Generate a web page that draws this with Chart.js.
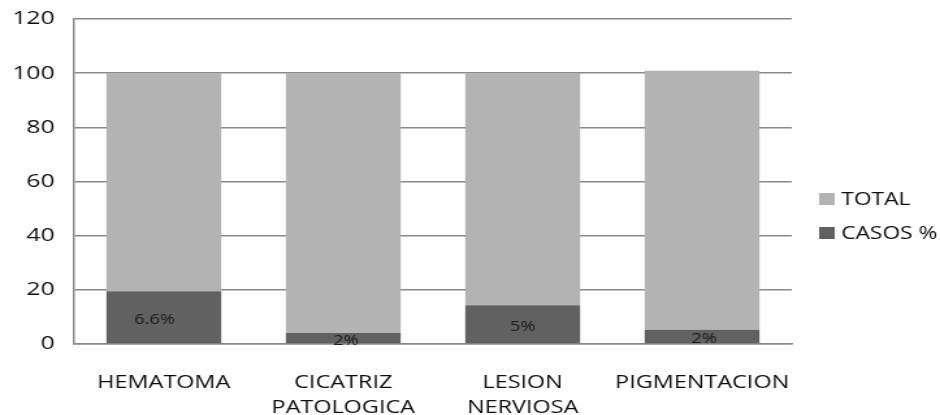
<!DOCTYPE html>
<html>
<head>
<meta charset="utf-8">
<script src="https://cdn.jsdelivr.net/npm/chart.js@4/dist/chart.umd.min.js"></script>
<style>
  html, body { margin: 0; padding: 0; background: #fff; overflow: hidden; }
  #wrap { width: 723px; height: 415px; transform: scaleX(1.3002); transform-origin: 0 0; }
</style>
</head>
<body>
<div id="wrap"><canvas id="chart" width="723" height="415"></canvas></div>
<script>
const categories = ['HEMATOMA', ['CICATRIZ', 'PATOLOGICA'], ['LESION', 'NERVIOSA'], 'PIGMENTACION'];
const casos = [19.5, 4.1, 14.3, 5.3];
const total = [80.5, 95.9, 85.7, 95.6];
const casosLabels = ['6.6%', '2%', '5%', '2%'];
const yTicks = [0, 20, 40, 60, 80, 100, 120];

const FONT = '"Open Sans", sans-serif';
const TEXT = '#0d0d0d';

// Writes the percentage text in the middle of each CASOS segment
const segmentLabels = {
  id: 'segmentLabels',
  afterDatasetsDraw(chart, args, opts) {
    const meta = chart.getDatasetMeta(0);
    const ctx = chart.ctx;
    const nudge = opts.nudgeX || [];
    ctx.save();
    ctx.font = '14px ' + FONT;
    ctx.fillStyle = '#1a1a1a';
    ctx.textAlign = 'center';
    ctx.textBaseline = 'middle';
    meta.data.forEach((bar, i) => {
      ctx.fillText(casosLabels[i], bar.x + (nudge[i] || 0), (bar.y + bar.base) / 2 + 3);
    });
    ctx.restore();
  }
};

// Legend to the right of the plot: TOTAL above CASOS %
const sideLegend = {
  id: 'sideLegend',
  afterDraw(chart) {
    const ctx = chart.ctx;
    const area = chart.chartArea;
    const items = chart.data.datasets.slice().reverse();
    const rowGap = 34;
    const top = chart.height / 2 + 8.5 - rowGap * (items.length - 1) / 2;
    const boxX = area.right + 21;
    ctx.save();
    ctx.font = '17.5px ' + FONT;
    ctx.textBaseline = 'middle';
    items.forEach((ds, i) => {
      const cy = top + i * rowGap;
      ctx.fillStyle = ds.backgroundColor;
      ctx.fillRect(boxX, cy - 6, 12, 12);
      ctx.fillStyle = TEXT;
      ctx.fillText(ds.label, boxX + 17, cy + 1);
    });
    ctx.restore();
  }
};

new Chart(document.getElementById('chart'), {
  type: 'bar',
  data: {
    labels: categories,
    datasets: [
      { label: 'CASOS %', data: casos, backgroundColor: '#616161' },
      { label: 'TOTAL', data: total, backgroundColor: '#b3b3b3' }
    ]
  },
  options: {
    responsive: false,
    animation: false,
    layout: { padding: { top: 19, right: 114, left: 0, bottom: 0 } },
    datasets: { bar: { categoryPercentage: 1, barPercentage: 0.64 } },
    scales: {
      x: {
        stacked: true,
        grid: { display: false },
        border: { display: true, color: '#8a8a8a', width: 1.5 },
        afterFit(scale) { scale.height = 71; scale.paddingLeft = 0; scale.paddingRight = 0; },
        ticks: {
          color: TEXT,
          padding: 18,
          maxRotation: 0,
          autoSkip: false,
          font: { family: FONT, size: 18, lineHeight: 1.39 }
        }
      },
      y: {
        stacked: true,
        min: 0,
        max: 120,
        afterBuildTicks(scale) { scale.ticks = yTicks.map(v => ({ value: v })); },
        afterFit(scale) { scale.width = 57; scale.paddingTop = 0; scale.paddingBottom = 0; },
        grid: { color: '#8a8a8a', lineWidth: 1.5, drawTicks: false },
        border: { display: true, color: '#8a8a8a', width: 1.5 },
        ticks: {
          color: TEXT,
          padding: 15,
          font: { family: FONT, size: 19 }
        }
      }
    },
    plugins: {
      tooltip: { enabled: false },
      legend: { display: false },
      segmentLabels: { nudgeX: [-7, 2, 0, 1.5] }
    }
  },
  plugins: [segmentLabels, sideLegend]
});
</script>
</body>
</html>
